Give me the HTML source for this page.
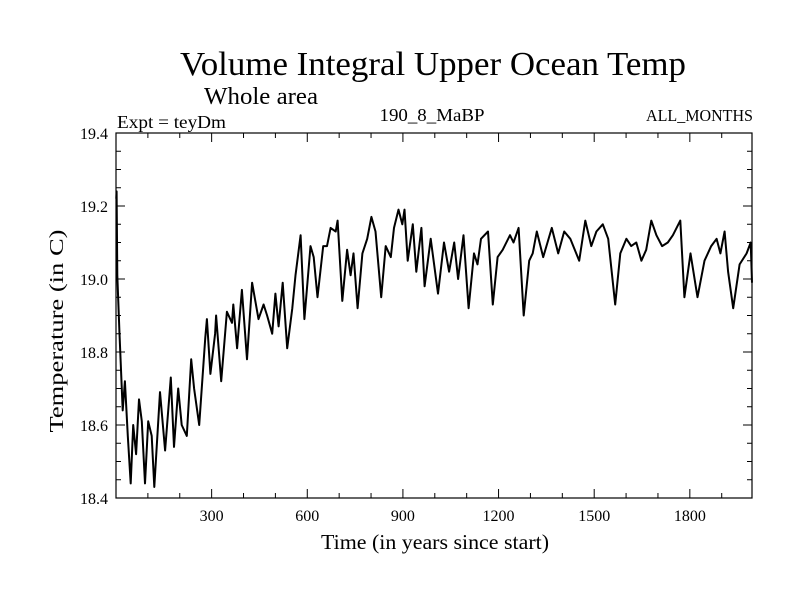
<!DOCTYPE html>
<html><head><meta charset="utf-8"><style>
body{margin:0;background:#fff}
svg text{font-family:"Liberation Serif",serif;fill:#000}
</style></head><body>
<svg width="800" height="600" id="c">
<text x="433" y="75" font-size="34" text-anchor="middle" textLength="506" lengthAdjust="spacingAndGlyphs">Volume Integral Upper Ocean Temp</text>
<text x="204" y="104" font-size="24" textLength="114" lengthAdjust="spacingAndGlyphs">Whole area</text>
<text x="117" y="128" font-size="18" textLength="109" lengthAdjust="spacingAndGlyphs">Expt = teyDm</text>
<text x="432" y="121" font-size="18" text-anchor="middle" textLength="105" lengthAdjust="spacingAndGlyphs">190_8_MaBP</text>
<text x="753" y="121" font-size="17" text-anchor="end" textLength="107" lengthAdjust="spacingAndGlyphs">ALL_MONTHS</text>
<text x="435" y="549" font-size="21" text-anchor="middle" textLength="228" lengthAdjust="spacingAndGlyphs">Time (in years since start)</text>
<text transform="translate(63,331) rotate(-90)" font-size="20" text-anchor="middle" textLength="203" lengthAdjust="spacingAndGlyphs">Temperature (in C)</text>
<g id="axes"></g>
<path id="line" fill="none" stroke="#000" stroke-width="2" stroke-linejoin="round"/>
<rect x="116" y="133" width="636" height="365" fill="none" stroke="#000" stroke-width="1.2"/>
</svg>
<script>
const years=[1,2,4,11,21,28,37,46,54,63,72,81,91,101,112,120,138,154,172,182,195,206,222,236,245,261,280,285,296,311,314,330,348,364,368,380,395,411,427,447,463,474,490,500,510,523,537,553,563,579,591,610,620,632,650,662,673,689,695,710,725,736,745,758,773,788,801,814,832,846,862,872,886,898,905,915,931,942,958,968,987,1010,1029,1045,1061,1073,1090,1106,1123,1134,1145,1167,1182,1197,1213,1236,1247,1263,1279,1296,1307,1320,1340,1367,1387,1406,1425,1453,1472,1491,1507,1527,1544,1566,1582,1601,1616,1632,1648,1663,1679,1695,1713,1731,1747,1770,1783,1802,1824,1846,1867,1884,1896,1909,1920,1936,1956,1978,1991,1995];
const temps=[19.22,19.24,19.01,18.85,18.64,18.72,18.57,18.44,18.60,18.52,18.67,18.61,18.44,18.61,18.57,18.43,18.69,18.53,18.73,18.54,18.70,18.60,18.57,18.78,18.70,18.60,18.84,18.89,18.74,18.85,18.90,18.72,18.91,18.88,18.93,18.81,18.97,18.78,18.99,18.89,18.93,18.90,18.85,18.96,18.87,18.99,18.81,18.92,19.01,19.12,18.89,19.09,19.06,18.95,19.09,19.09,19.14,19.13,19.16,18.94,19.08,19.01,19.07,18.92,19.07,19.11,19.17,19.13,18.95,19.09,19.06,19.14,19.19,19.15,19.19,19.05,19.15,19.02,19.14,18.98,19.11,18.96,19.10,19.02,19.10,19.00,19.12,18.92,19.07,19.04,19.11,19.13,18.93,19.06,19.08,19.12,19.10,19.14,18.90,19.05,19.07,19.13,19.06,19.14,19.07,19.13,19.11,19.05,19.16,19.09,19.13,19.15,19.11,18.93,19.07,19.11,19.09,19.10,19.05,19.08,19.16,19.12,19.09,19.10,19.12,19.16,18.95,19.07,18.95,19.05,19.09,19.11,19.07,19.13,19.02,18.92,19.04,19.07,19.10,18.99];
const xTicks=[300,600,900,1200,1500,1800];
const yTicks=[18.4,18.6,18.8,19.0,19.2,19.4];
const X0=116,X1=752,Y0=498,Y1=133,XMIN=0,XMAX=1995,YMIN=18.4,YMAX=19.4;
const sx=v=>X0+(v-XMIN)/(XMAX-XMIN)*(X1-X0);
const sy=v=>Y0-(v-YMIN)/(YMAX-YMIN)*(Y0-Y1);
const NS='http://www.w3.org/2000/svg';
const g=document.getElementById('axes');
function ln(x1,y1,x2,y2,name){const l=document.createElementNS(NS,'line');l.setAttribute('x1',x1);l.setAttribute('y1',y1);l.setAttribute('x2',x2);l.setAttribute('y2',y2);l.setAttribute('stroke','#000');l.setAttribute('stroke-width','1');


g.appendChild(l);}
function tx(x,y,s,anchor,name){const t=document.createElementNS(NS,'text');t.setAttribute('x',x);t.setAttribute('y',y);t.setAttribute('font-size','16');t.setAttribute('text-anchor',anchor);t.textContent=s;


g.appendChild(t);}
for(let v=100;v<XMAX;v+=100){const x=sx(v);const major=v%300===0;const L=major?9:5;ln(x,Y0,x,Y0-L,'x-tick');ln(x,Y1,x,Y1+L,'x-tick-top');}
xTicks.forEach(v=>tx(sx(v),521,String(v),'middle','x-tick-label'));
for(let i=0;i<=20;i++){const v=YMIN+i*0.05;const y=sy(v);const major=i%4===0;const L=major?9:5;ln(X0,y,X0+L,y,'y-tick');ln(X1,y,X1-L,y,'y-tick-right');}
yTicks.forEach(v=>tx(108,sy(v)+6,v.toFixed(1),'end','y-tick-label'));
let d='';years.forEach((yr,i)=>{d+=(i?'L':'M')+sx(yr).toFixed(1)+','+sy(temps[i]).toFixed(1);});
document.getElementById('line').setAttribute('d',d);
</script>
</body></html>
